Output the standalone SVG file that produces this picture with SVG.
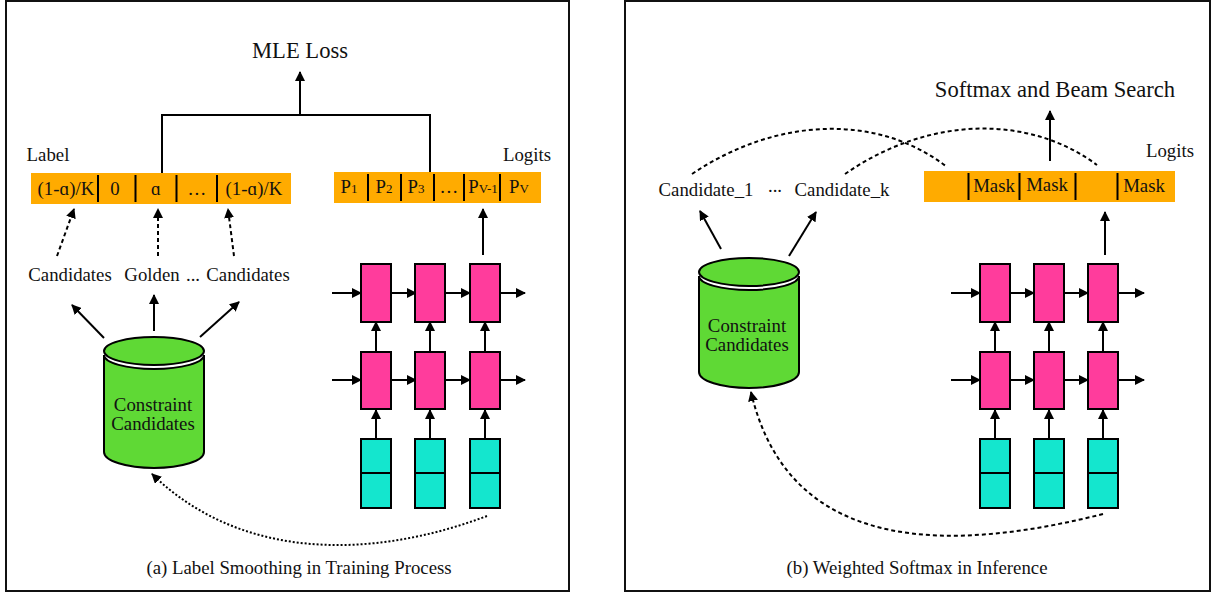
<svg xmlns="http://www.w3.org/2000/svg" width="1213" height="594" viewBox="0 0 1213 594">
<style>
text{font-family:"Liberation Serif",serif;font-size:18.800px;fill:#111;text-anchor:middle}
.big{font-size:22.600px}
.sub{font-size:13px}
.frame{fill:#fff;stroke:#111;stroke-width:2}
.bar{fill:#ffab00}
.div{stroke:#000;stroke-width:2}
.pink{fill:#ff3c9c;stroke:#000;stroke-width:2}
.teal{fill:#14e6ce;stroke:#000;stroke-width:2}
.green{fill:#5fd935;stroke:#000;stroke-width:2}
.ln{fill:none;stroke:#000;stroke-width:2}
.arr{marker-end:url(#a)}
.dash{stroke-dasharray:4 3}
.dot{stroke-dasharray:2 2}
</style>
<defs>
<marker id="a" markerUnits="userSpaceOnUse" markerWidth="11" markerHeight="10" refX="9" refY="5" orient="auto"><path d="M0 0L10 5L0 10Z" fill="#000"/></marker>
</defs>
<rect class="frame" x="6" y="1" width="563" height="590"/>
<rect class="frame" x="625" y="1" width="585" height="590"/>

<g id="connectors">
<path class="ln" d="M162 173V115H430V172"/>
<path class="ln arr" d="M300 115V72"/>
<path class="ln arr dash" d="M57 256L74 209"/>
<path class="ln arr dash" d="M158 256V209"/>
<path class="ln arr dash" d="M234 256L228 209"/>
<path class="ln arr" d="M104 338L72 305"/>
<path class="ln arr" d="M154 331V295"/>
<path class="ln arr" d="M200 337L239 302"/>
<path class="ln arr" d="M483 255V209"/>
<path class="ln arr" d="M332 293H361"/><path class="ln arr" d="M391 293H416"/><path class="ln arr" d="M445 293H470"/><path class="ln arr" d="M500 293H525"/>
<path class="ln arr" d="M332 380H361"/><path class="ln arr" d="M391 380H416"/><path class="ln arr" d="M445 380H470"/><path class="ln arr" d="M500 380H525"/>
<path class="ln arr" d="M376 352V322"/><path class="ln arr" d="M430 352V322"/><path class="ln arr" d="M485 352V322"/>
<path class="ln arr" d="M376 439V410"/><path class="ln arr" d="M430 439V410"/><path class="ln arr" d="M485 439V410"/>
<path class="ln arr dot" d="M487 516C370 560 240 560 152 474"/>
<path class="ln dash" d="M692 174C780 115 880 115 947 167"/>
<path class="ln dash" d="M845 174C930 115 1030 115 1097 165"/>
<path class="ln arr" d="M1050 161V111"/>
<path class="ln arr" d="M721 249L700 211"/>
<path class="ln arr" d="M789 256L816 212"/>
<path class="ln arr" d="M1105 255V212"/>
<path class="ln arr" d="M951 293H980"/><path class="ln arr" d="M1010 293H1034"/><path class="ln arr" d="M1064 293H1088"/><path class="ln arr" d="M1118 293H1144"/>
<path class="ln arr" d="M951 380H980"/><path class="ln arr" d="M1010 380H1034"/><path class="ln arr" d="M1064 380H1088"/><path class="ln arr" d="M1118 380H1144"/>
<path class="ln arr" d="M995 352V322"/><path class="ln arr" d="M1049 352V322"/><path class="ln arr" d="M1103 352V322"/>
<path class="ln arr" d="M995 439V410"/><path class="ln arr" d="M1049 439V410"/><path class="ln arr" d="M1103 439V410"/>
<path class="ln arr dash" d="M1103 514C960 550 790 560 751 392"/>
</g>

<g id="title-a"><text class="big" x="300" y="58">MLE Loss</text></g>
<g id="label-bar">
<text x="48" y="161">Label</text>
<rect class="bar" x="31" y="173" width="260" height="31"/>
<path class="div" d="M98 175V202M135.500 175V202M176.500 175V202M217 175V202"/>
<text x="66" y="195">(1-ɑ)/K</text><text x="115" y="195">0</text><text x="156" y="195">ɑ</text><text x="197" y="195">…</text><text x="254" y="195">(1-ɑ)/K</text>
</g>
<g id="logits-bar">
<text x="527" y="161">Logits</text>
<rect class="bar" x="334" y="172" width="207" height="31"/>
<path class="div" d="M368 174V201M401 174V201M434 174V201M464 174V201M500 174V201"/>
<text x="349" y="193">P<tspan class="sub">1</tspan></text>
<text x="384" y="193">P<tspan class="sub">2</tspan></text>
<text x="416" y="193">P<tspan class="sub">3</tspan></text>
<text x="449" y="193">…</text>
<text x="483" y="193">P<tspan class="sub">V-1</tspan></text>
<text x="519" y="193">P<tspan class="sub">V</tspan></text>
</g>
<g id="cand-a">
<text x="70" y="281">Candidates</text><text x="152" y="281">Golden</text><text x="193" y="281">...</text><text x="248" y="281">Candidates</text>
</g>
<g id="cyl-a">
<path class="green" d="M104 355V452A50 16 0 0 0 204 452V355A50 14 0 0 1 104 355Z"/>
<ellipse class="green" cx="154" cy="351" rx="50" ry="14"/>
<text x="153" y="411">Constraint</text><text x="153" y="430">Candidates</text>
</g>
<g id="rnn-a">
<rect class="pink" x="361" y="264" width="30" height="58"/><rect class="pink" x="415" y="264" width="30" height="58"/><rect class="pink" x="470" y="264" width="30" height="58"/>
<rect class="pink" x="361" y="352" width="30" height="57"/><rect class="pink" x="415" y="352" width="30" height="57"/><rect class="pink" x="470" y="352" width="30" height="57"/>
<rect class="teal" x="361" y="439" width="30" height="34"/><rect class="teal" x="361" y="473" width="30" height="35"/>
<rect class="teal" x="415" y="439" width="30" height="34"/><rect class="teal" x="415" y="473" width="30" height="35"/>
<rect class="teal" x="470" y="439" width="30" height="34"/><rect class="teal" x="470" y="473" width="30" height="35"/>
</g>
<g id="caption-a"><text x="299" y="574">(a) Label Smoothing in Training Process</text></g>

<g id="title-b"><text class="big" x="1055" y="97">Softmax and Beam Search</text></g>
<g id="mask-bar">
<text x="1170" y="157">Logits</text>
<rect class="bar" x="924" y="171" width="251" height="31"/>
<path class="div" d="M968.500 173V200M1019.500 173V200M1075.500 173V200M1117.500 173V200"/>
<text x="994" y="192">Mask</text><text x="1047" y="191">Mask</text><text x="1144" y="192">Mask</text>
</g>
<g id="cand-b">
<text x="706" y="196">Candidate_1</text><text x="775" y="192">...</text><text x="842" y="196">Candidate_k</text>
</g>
<g id="cyl-b">
<path class="green" d="M699 276V372A50 16 0 0 0 799 372V276A50 14 0 0 1 699 276Z"/>
<ellipse class="green" cx="749" cy="272" rx="50" ry="14"/>
<text x="747" y="332">Constraint</text><text x="747" y="351">Candidates</text>
</g>
<g id="rnn-b">
<rect class="pink" x="980" y="264" width="30" height="58"/><rect class="pink" x="1034" y="264" width="30" height="58"/><rect class="pink" x="1088" y="264" width="30" height="58"/>
<rect class="pink" x="980" y="352" width="30" height="57"/><rect class="pink" x="1034" y="352" width="30" height="57"/><rect class="pink" x="1088" y="352" width="30" height="57"/>
<rect class="teal" x="980" y="439" width="30" height="34"/><rect class="teal" x="980" y="473" width="30" height="35"/>
<rect class="teal" x="1034" y="439" width="30" height="34"/><rect class="teal" x="1034" y="473" width="30" height="35"/>
<rect class="teal" x="1088" y="439" width="30" height="34"/><rect class="teal" x="1088" y="473" width="30" height="35"/>
</g>
<g id="caption-b"><text x="917" y="574">(b) Weighted Softmax in Inference</text></g>
</svg>
